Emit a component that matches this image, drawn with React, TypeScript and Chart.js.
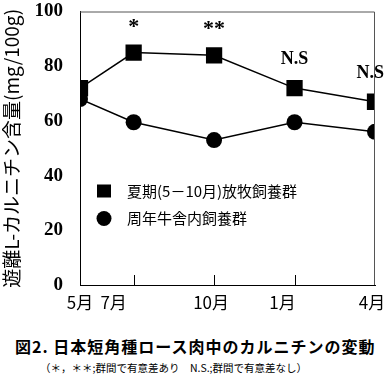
import React, { useEffect, useRef } from "react";
import { Chart, registerables } from "chart.js";

Chart.register(...registerables);

// months counted from May (May=0)
const monthOffsets = [0, 2, 5, 8, 11];
const monthLabels = ["5月", "7月", "10月", "1月", "4月"];
const labelShift = [0, -20, -3, -12, -3];
const grazingGroup = [72, 85, 84, 72, 67];
const housedGroup = [68, 59.5, 53, 59.5, 56];
const significance = ["", "*", "**", "N.S", "N.S"];
const seriesNames = ["夏期(5－10月)放牧飼養群", "周年牛舎内飼養群"];
const yTitle = "遊離L-カルニチン含量(mg/100g)";

const decorPlugin = {
  id: "decor",
  afterDraw(chart: any) {
    const { ctx, chartArea: a, scales } = chart;
    const xs = scales.x;
    ctx.save();
    // frame top & right
    ctx.strokeStyle = "#555";
    ctx.lineWidth = 1;
    ctx.beginPath();
    ctx.moveTo(a.left, a.top + 0.5);
    ctx.lineTo(a.right - 0.5, a.top + 0.5);
    ctx.lineTo(a.right - 0.5, a.bottom);
    ctx.stroke();
    // inner tick marks
    ctx.strokeStyle = "#000";
    ctx.beginPath();
    monthOffsets.slice(1, -1).forEach((m) => {
      const px = Math.round(xs.getPixelForValue(m)) + 0.5;
      ctx.moveTo(px, a.bottom);
      ctx.lineTo(px, a.bottom - 10);
    });
    ctx.stroke();
    // x labels
    ctx.fillStyle = "#000";
    ctx.font = "17px 'Noto Sans CJK JP'";
    ctx.textAlign = "center";
    ctx.textBaseline = "middle";
    monthOffsets.forEach((m, i) => {
      ctx.fillText(monthLabels[i], xs.getPixelForValue(m) + labelShift[i], a.bottom + 18);
    });
    // significance marks
    ctx.textBaseline = "alphabetic";
    const meta = chart.getDatasetMeta(0);
    significance.forEach((s, i) => {
      if (!s) return;
      const pt = meta.data[i];
      let x = pt.x;
      const isStar = s.startsWith("*");
      ctx.font = isStar ? "bold 22px 'Liberation Serif'" : "bold 18px 'Liberation Serif'";
      const w = ctx.measureText(s).width;
      if (x + w / 2 > chart.width - 4) x = chart.width - 4 - w / 2;
      ctx.fillText(s, x, pt.y - (isStar ? 20 : 24));
    });
    // legend inside plot
    const lx = a.left + 24;
    const rows = [a.top + 180, a.top + 207];
    ctx.fillStyle = "#000";
    ctx.fillRect(lx - 7, rows[0] - 7, 14, 13);
    ctx.beginPath();
    ctx.arc(lx, rows[1], 7.5, 0, Math.PI * 2);
    ctx.fill();
    ctx.font = "15px 'Noto Sans CJK JP'";
    ctx.textAlign = "left";
    ctx.textBaseline = "middle";
    ctx.fillText(seriesNames[0], lx + 23, rows[0]);
    ctx.fillText(seriesNames[1], lx + 23, rows[1]);
    ctx.restore();
  },
};

export default function App() {
  const ref = useRef<HTMLCanvasElement>(null);
  useEffect(() => {
    if (!ref.current) return;
    const chart = new Chart(ref.current, {
      type: "line",
      data: {
        datasets: [
          {
            label: seriesNames[0],
            data: monthOffsets.map((m, i) => ({ x: m, y: grazingGroup[i] })),
            borderColor: "#000",
            backgroundColor: "#000",
            borderWidth: 1.5,
            pointStyle: "rect",
            pointRadius: 11.5,
            pointBorderWidth: 0,
            order: 0,
          },
          {
            label: seriesNames[1],
            data: monthOffsets.map((m, i) => ({ x: m, y: housedGroup[i] })),
            borderColor: "#000",
            backgroundColor: "#000",
            borderWidth: 1.5,
            pointStyle: "circle",
            pointRadius: 8,
            pointBorderWidth: 0,
            order: 1,
          },
        ],
      },
      options: {
        animation: false,
        responsive: false,
        devicePixelRatio: 1,
        layout: { padding: { top: 7, right: 13, left: 0, bottom: 0 } },
        plugins: { legend: { display: false }, tooltip: { enabled: false } },
        scales: {
          x: {
            type: "linear",
            min: 0,
            max: 11,
            grid: { display: false },
            border: { display: true, color: "#000", width: 1 },
            ticks: { display: false },
            afterFit: (s: any) => {
              s.height = 35;
              s.paddingLeft = 0;
              s.paddingRight = 0;
            },
          },
          y: {
            min: 0,
            max: 100,
            grid: { display: false, drawTicks: false },
            border: { display: true, color: "#000", width: 1 },
            ticks: {
              stepSize: 20,
              padding: 17,
              color: "#000",
              font: { family: "'Liberation Serif'", size: 19, weight: "bold" },
            },
            title: {
              display: true,
              text: yTitle,
              color: "#000",
              font: { family: "'Noto Sans CJK JP'", size: 19 },
              padding: { top: 0, bottom: 0 },
            },
            afterFit: (s: any) => {
              s.width = 80;
              s.paddingTop = 0;
              s.paddingBottom = 0;
            },
          },
        },
      },
      plugins: [decorPlugin],
    });
    return () => chart.destroy();
  }, []);
  return (
    <div style={{ position: "absolute", left: 0, top: 0, width: 388, height: 376, background: "#fff" }}>
      <canvas ref={ref} width={388} height={320} style={{ display: "block", width: 388, height: 320 }} />
      <div
        style={{
          position: "absolute",
          left: 15,
          top: 336,
          fontFamily: "'Noto Sans CJK JP'",
          fontWeight: "bold",
          fontSize: 16,
          letterSpacing: 1,
          whiteSpace: "nowrap",
          lineHeight: "20px",
          color: "#000",
        }}
      >
        図2. 日本短角種ロース肉中のカルニチンの変動
      </div>
      <div
        style={{
          position: "absolute",
          left: 40,
          top: 361,
          fontFamily: "'Noto Sans CJK JP'",
          fontSize: 10.5,
          whiteSpace: "nowrap",
          lineHeight: "14px",
          color: "#000",
        }}
      >
        （＊，＊＊;群間で有意差あり　N.S.;群間で有意差なし）
      </div>
    </div>
  );
}
